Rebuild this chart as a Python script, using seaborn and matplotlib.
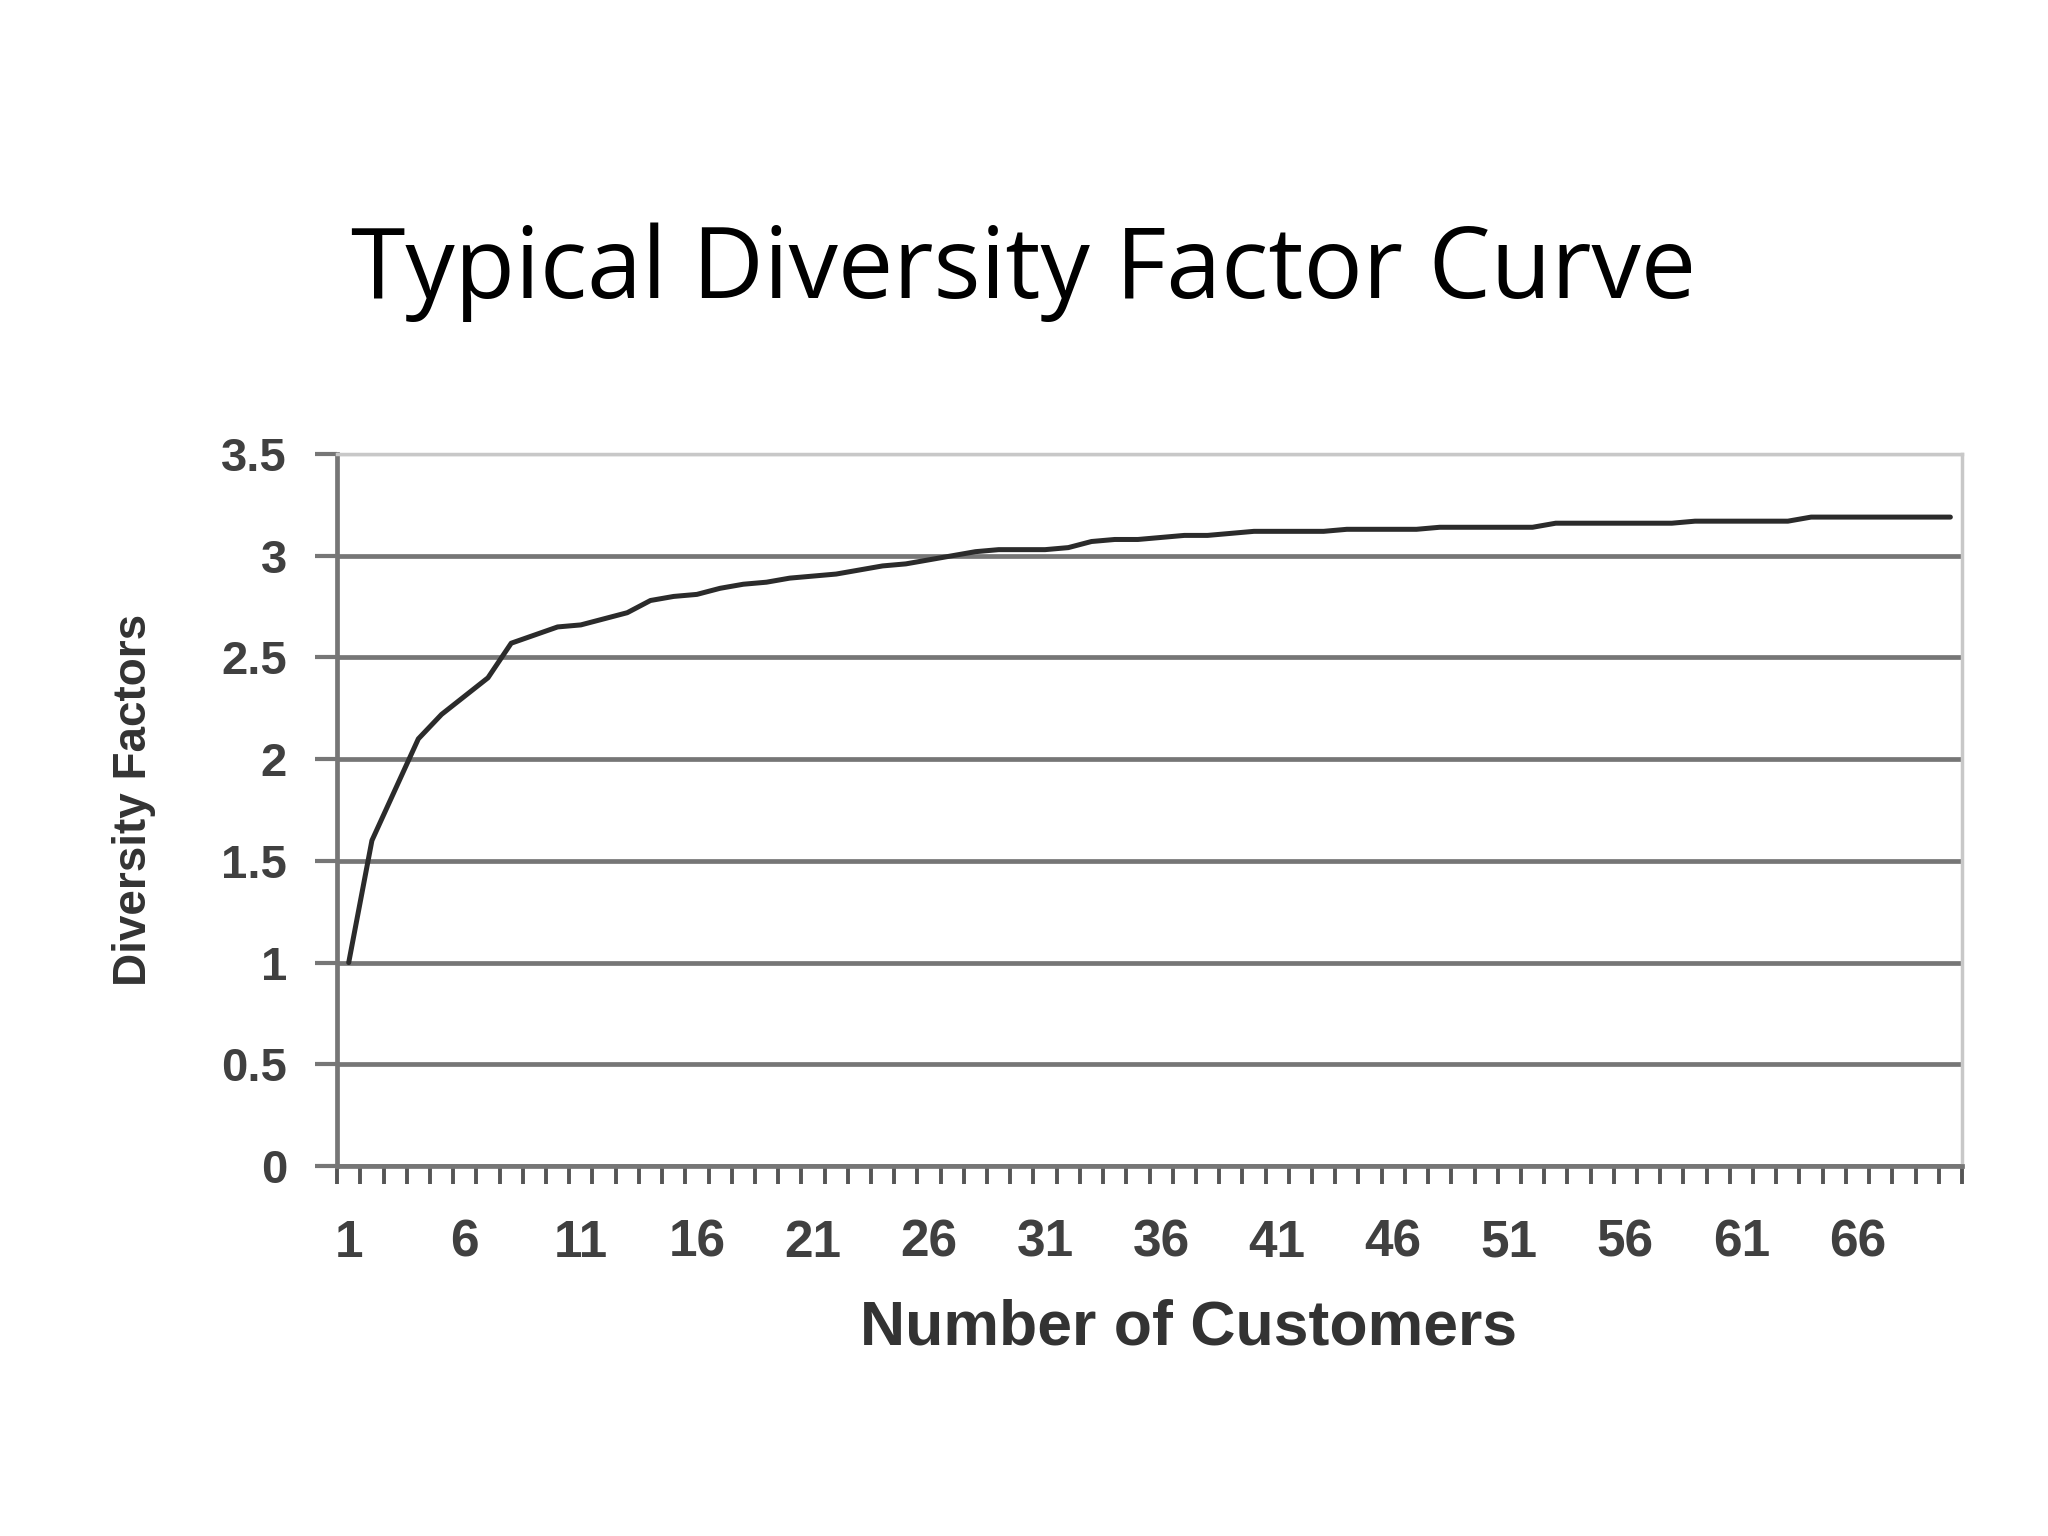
import numpy as np
import pandas as pd
import matplotlib
matplotlib.use("Agg")
import matplotlib.pyplot as plt
import seaborn as sns
from matplotlib.ticker import FixedLocator

# ---- data ----
customers = list(range(1, 71))
diversity = [
    1.00, 1.60, 1.85, 2.10, 2.22, 2.31, 2.40, 2.57, 2.61, 2.65,
    2.66, 2.69, 2.72, 2.78, 2.80, 2.81, 2.84, 2.86, 2.87, 2.89,
    2.90, 2.91, 2.93, 2.95, 2.96, 2.98, 3.00, 3.02, 3.03, 3.03,
    3.03, 3.04, 3.07, 3.08, 3.08, 3.09, 3.10, 3.10, 3.11, 3.12,
    3.12, 3.12, 3.12, 3.13, 3.13, 3.13, 3.13, 3.14, 3.14, 3.14,
    3.14, 3.14, 3.16, 3.16, 3.16, 3.16, 3.16, 3.16, 3.17, 3.17,
    3.17, 3.17, 3.17, 3.19, 3.19, 3.19, 3.19, 3.19, 3.19, 3.19,
]
x_labels = list(range(1, 67, 5))
y_ticks = [0, 0.5, 1, 1.5, 2, 2.5, 3, 3.5]

TITLE = "Typical Diversity Factor Curve"
XLABEL = "Number of Customers"
YLABEL = "Diversity Factors"

GRID = "#767676"
TEXT = "#333333"

sns.set_style("white")
plt.rcParams["font.family"] = ["Liberation Sans", "DejaVu Sans"]

df = pd.DataFrame({"customers": customers, "df": diversity})

fig = plt.figure(figsize=(20.48, 15.36), dpi=100)
ax = fig.add_axes([0.1646, 0.2409, 0.9580 - 0.1646, 0.7044 - 0.2409])

sns.lineplot(data=df, x="customers", y="df", ax=ax, color="#2b2b2b",
             linewidth=3.6, zorder=5)

ax.set_xlim(0.5, 70.5)
ax.set_ylim(0, 3.5)

# y axis / grid
ax.set_yticks(y_ticks)
ax.set_yticklabels([f"{v:g}" for v in y_ticks], fontweight="bold")
ax.yaxis.grid(True, color=GRID, linewidth=3.4)
ax.get_ygridlines()[-1].set_color("#c8c8c8")
ax.get_ygridlines()[-1].set_linewidth(2.5)
ax.tick_params(axis="y", direction="out", length=16, width=3, color=GRID,
               labelsize=34, labelcolor="#404040", pad=20, left=True)

# x axis: labels on categories, ticks on category boundaries
ax.xaxis.set_major_locator(FixedLocator(x_labels))
ax.set_xticklabels([str(v) for v in x_labels], fontweight="bold")
ax.xaxis.set_minor_locator(FixedLocator(np.arange(0.5, 71, 1.0)))
ax.tick_params(axis="x", which="major", length=0, labelsize=37,
               labelcolor="#404040", pad=38, bottom=True)
ax.tick_params(axis="x", which="minor", direction="out", length=13,
               width=2.8, color="#555555", bottom=True)

for side in ["left", "bottom"]:
    ax.spines[side].set_color(GRID)
    ax.spines[side].set_linewidth(3.4)
for side in ["top", "right"]:
    ax.spines[side].set_visible(True)
    ax.spines[side].set_color("#c8c8c8")
    ax.spines[side].set_linewidth(2.5)

ax.set_xlabel(XLABEL, fontsize=45, fontweight="bold", color=TEXT)
ax.xaxis.set_label_coords(0.524, -0.2275)
ax.xaxis.label.set_va("center")
ax.set_ylabel(YLABEL, fontsize=33, fontweight="bold", color=TEXT)
ax.yaxis.set_label_coords(-0.125, 0.514)
ax.yaxis.label.set_va("center")

fig.text(0.5, 0.806, TITLE, ha="center", va="baseline", fontsize=71,
         color="black", family=["Open Sans", "DejaVu Sans"])

fig.savefig("out.png", dpi=100, facecolor="white")
